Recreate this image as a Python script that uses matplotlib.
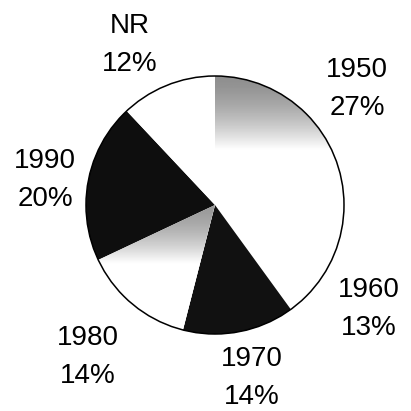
import numpy as np
import matplotlib
matplotlib.use('Agg')
import matplotlib.pyplot as plt
from matplotlib.patches import Circle

plt.rcParams['font.family'] = ['Liberation Sans', 'DejaVu Sans']

# Decades and their share of the total (%)
decades = ['1950', '1960', '1970', '1980', '1990', 'NR']
shares = [27, 13, 14, 14, 20, 12]

# base fill for each slice; None means a shaded (gradient) slice
fills = [None, 'white', '#111111', None, '#0e0e0e', 'white']

# label anchor points (x, baseline of first line) in pixel units from top-left
label_pos = [(357, 77), (369, 297), (252, 366), (88, 345), (45, 168), (130, 33)]

W = 411
cx, cy, r = 215, W - 205, 129

fig = plt.figure(figsize=(4.11, 4.11), dpi=100)
ax = fig.add_axes([0, 0, 1, 1])

wedges, _ = ax.pie(shares, startangle=90, counterclock=False,
                   center=(cx, cy), radius=r,
                   colors=[f if f else 'white' for f in fills],
                   wedgeprops=dict(linewidth=0))

# gradient shading: grey at one end, fading to white
def shade(wedge, y_dark, y_white, dark):
    ys = np.linspace(cy - r, cy + r, 300)
    t = np.clip((ys - y_dark) / (y_white - y_dark), 0, 1)
    g = dark + (1 - dark) * t ** 1.6
    img = ax.imshow(g[:, None], cmap='gray', vmin=0, vmax=1, origin='lower',
                    extent=(cx - r, cx + r, cy - r, cy + r), aspect='auto',
                    interpolation='bilinear', zorder=wedge.get_zorder() + 0.1)
    img.set_clip_path(wedge)

shade(wedges[0], cy + r, W - 150, 0.56)   # 1950: grey at the rim, white toward centre
shade(wedges[3], cy, W - 264, 0.6)        # 1980: grey at the centre, white toward the rim

ax.add_patch(Circle((cx, cy), r, fill=False, ec='black', lw=1.1, zorder=5))

for name, pct, (x, y) in zip(decades, shares, label_pos):
    ax.text(x, W - y, name, fontsize=20, ha='center', va='baseline')
    ax.text(x, W - y - 38, f'{pct}%', fontsize=20, ha='center', va='baseline')

ax.set_xlim(0, W)
ax.set_ylim(0, W)
ax.set_aspect('equal')
ax.axis('off')

fig.savefig('out.png', dpi=100)
